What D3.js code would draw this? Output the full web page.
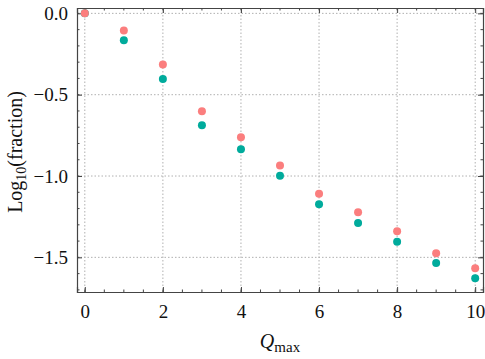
<!DOCTYPE html>
<html>
<head>
<meta charset="utf-8">
<script src="https://cdn.jsdelivr.net/npm/d3@7"></script>
<style>
  body { margin: 0; background: #fff; }
  svg text { font-family: "Liberation Serif", "DejaVu Serif", serif; fill: #111; }
  svg tspan.it { font-style: italic; }
</style>
</head>
<body>
<svg id="chart" width="485" height="359"></svg>
<script>
// data
const qmax = [0, 1, 2, 3, 4, 5, 6, 7, 8, 9, 10];
const seriesRed = [0.0, -0.105, -0.314, -0.602, -0.762, -0.936, -1.109, -1.223, -1.340, -1.475, -1.567];
const seriesTeal = [0.0, -0.166, -0.404, -0.688, -0.836, -0.998, -1.174, -1.289, -1.404, -1.535, -1.629];
const xTicks = [0, 2, 4, 6, 8, 10];
const yTicks = [0.0, -0.5, -1.0, -1.5];

const svg = d3.select('#chart');
const margin = {left: 77, top: 8, right: 2, bottom: 67};
const width = 485 - margin.left - margin.right;
const height = 359 - margin.top - margin.bottom;

const x = d3.scaleLinear().domain([-0.2, 10.2]).range([0, width]);
const y = d3.scaleLinear().domain([-1.713, 0.033]).range([height, 0]);

const g = svg.append('g').attr('transform', `translate(${margin.left},${margin.top})`);

// grid
g.append('g')
    .selectAll('line.gx')
    .data(xTicks)
    .join('line')
    .attr('x1', d => x(d)).attr('x2', d => x(d))
    .attr('y1', 0).attr('y2', height)
    .attr('stroke', '#b0b0b0').attr('stroke-width', 1).attr('stroke-dasharray', '1.5,2');
g.append('g')
    .selectAll('line.gy')
    .data(yTicks)
    .join('line')
    .attr('y1', d => y(d)).attr('y2', d => y(d))
    .attr('x1', 0).attr('x2', width)
    .attr('stroke', '#b0b0b0').attr('stroke-width', 1).attr('stroke-dasharray', '1.5,2');

// inward ticks on all four sides
const xMinor = d3.range(0, 10.01, 0.5);
const yMinor = d3.range(-1.7, 0.001, 0.1).map(v => Math.round(v * 10) / 10);
const tickStyle = sel => sel.attr('stroke', '#444').attr('stroke-width', 1);

const bottomAxis = d3.axisBottom(x).tickValues(xTicks).tickSize(-5).tickPadding(13).tickFormat(d3.format('d'));
const bAx = g.append('g').attr('transform', `translate(0,${height})`).call(bottomAxis);
const topAxis = d3.axisTop(x).tickValues(xTicks).tickSize(-5).tickFormat('');
const tAx = g.append('g').call(topAxis);
const leftAxis = d3.axisLeft(y).tickValues(yTicks).tickSize(-5).tickPadding(9)
    .tickFormat(d => d3.format('.1f')(d).replace('-', '\u2212'));
const lAx = g.append('g').call(leftAxis);
const rightAxis = d3.axisRight(y).tickValues(yTicks).tickSize(-5).tickFormat('');
const rAx = g.append('g').attr('transform', `translate(${width},0)`).call(rightAxis);

[bAx, tAx, lAx, rAx].forEach(a => {
    a.select('.domain').attr('stroke', '#444').attr('stroke-width', 1.2);
    a.selectAll('.tick line').call(tickStyle);
    a.selectAll('text').style('font-size', '19px').attr('fill', '#111');
});

// minor ticks
g.append('g').selectAll('line').data(xMinor).join('line')
    .attr('x1', d => x(d)).attr('x2', d => x(d)).attr('y1', height).attr('y2', height - 2.5).call(tickStyle);
g.append('g').selectAll('line').data(xMinor).join('line')
    .attr('x1', d => x(d)).attr('x2', d => x(d)).attr('y1', 0).attr('y2', 2.5).call(tickStyle);
g.append('g').selectAll('line').data(yMinor).join('line')
    .attr('y1', d => y(d)).attr('y2', d => y(d)).attr('x1', 0).attr('x2', 2.5).call(tickStyle);
g.append('g').selectAll('line').data(yMinor).join('line')
    .attr('y1', d => y(d)).attr('y2', d => y(d)).attr('x1', width).attr('x2', width - 2.5).call(tickStyle);

// points
g.append('g').selectAll('circle')
    .data(qmax.map((q, i) => ({q, v: seriesTeal[i]})))
    .join('circle')
    .attr('cx', d => x(d.q)).attr('cy', d => y(d.v)).attr('r', 4)
    .attr('fill', '#00ab9c');
g.append('g').selectAll('circle')
    .data(qmax.map((q, i) => ({q, v: seriesRed[i]})))
    .join('circle')
    .attr('cx', d => x(d.q)).attr('cy', d => y(d.v)).attr('r', 4)
    .attr('fill', '#fb7e7e');

// axis labels
const xl = svg.append('text')
    .attr('x', margin.left + width / 2).attr('y', 348)
    .attr('text-anchor', 'middle').style('font-size', '20px');
xl.append('tspan').attr('class', 'it').attr('font-style', 'italic').text('Q');
xl.append('tspan').text('max').attr('dy', 4).style('font-size', '15px');

const yl = svg.append('text')
    .attr('transform', `translate(22,${margin.top + height / 2 + 2}) rotate(-90)`)
    .attr('text-anchor', 'middle').style('font-size', '20px');
yl.append('tspan').text('Log');
yl.append('tspan').text('10').attr('dy', 4).style('font-size', '14px');
yl.append('tspan').text('(fraction)').attr('dy', -4);
</script>
</body>
</html>
